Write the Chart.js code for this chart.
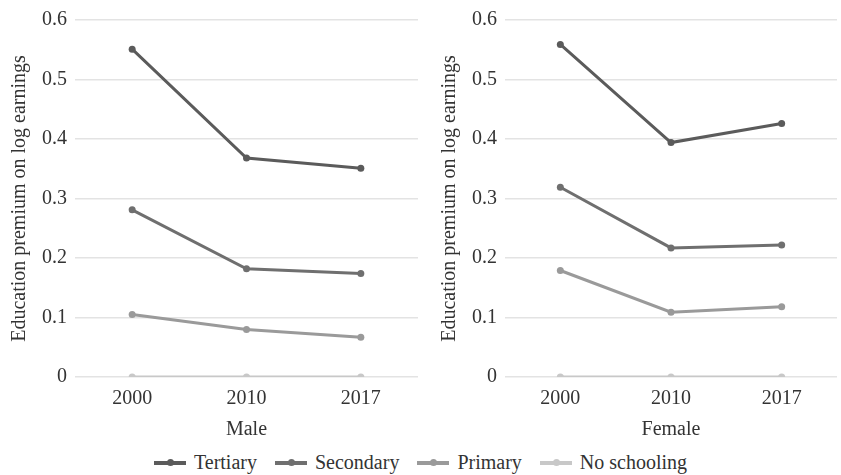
<!DOCTYPE html>
<html>
<head>
<meta charset="utf-8">
<script src="https://cdn.jsdelivr.net/npm/chart.js@4"></script>
<style>
  body { margin: 0; background: #fff; font-family: "Liberation Serif", "Times New Roman", "DejaVu Serif", serif; }
  #wrap { position: relative; width: 841px; height: 475px; }
  #leftBox { position: absolute; left: 0; top: 0; width: 422px; height: 446px; }
  #rightBox { position: absolute; left: 430px; top: 0; width: 411px; height: 446px; }
  #legend { position: absolute; left: 0; top: 451px; width: 841px; display: flex; justify-content: center; gap: 18px; font-size: 20px; color: #333; }
  .item { display: flex; align-items: center; gap: 8px; }
  .mark { position: relative; width: 32px; height: 4px; }
  .mark span { position: absolute; left: 13px; top: -2px; width: 7px; height: 7px; border-radius: 50%; }
</style>
</head>
<body>
<div id="wrap">
  <div id="leftBox"><canvas id="maleChart"></canvas></div>
  <div id="rightBox"><canvas id="femaleChart"></canvas></div>
  <div id="legend"></div>
</div>
<script>
const years = ["2000", "2010", "2017"];
const seriesNames = ["Tertiary", "Secondary", "Primary", "No schooling"];
const seriesColors = ["#5b5b5b", "#6f6f6f", "#9a9a9a", "#c8c8c8"];

// Male
const maleTertiary = [0.551, 0.368, 0.351];
const maleSecondary = [0.281, 0.182, 0.174];
const malePrimary = [0.105, 0.080, 0.067];
const maleNone = [0, 0, 0];

// Female
const femaleTertiary = [0.559, 0.394, 0.426];
const femaleSecondary = [0.319, 0.217, 0.222];
const femalePrimary = [0.179, 0.109, 0.118];
const femaleNone = [0, 0, 0];

const fontFamily = "'Liberation Serif', 'Times New Roman', 'DejaVu Serif', serif";

function makeChart(id, title, seriesData) {
    const ctx = document.getElementById(id).getContext("2d");
    return new Chart(ctx, {
        type: "line",
        data: {
            labels: years,
            datasets: seriesData.map((d, i) => ({
                label: seriesNames[i],
                data: d,
                borderColor: seriesColors[i],
                backgroundColor: seriesColors[i],
                borderWidth: 3,
                pointRadius: 3.5,
                pointBorderWidth: 0,
                tension: 0
            })).reverse()
        },
        options: {
            responsive: true,
            maintainAspectRatio: false,
            animation: false,
            layout: { padding: { top: 8, right: 0, left: 4 } },
            plugins: { legend: { display: false }, tooltip: { enabled: false } },
            scales: {
                x: {
                    offset: true,
                    grid: { display: false },
                    border: { display: false },
                    ticks: { color: "#333", font: { family: fontFamily, size: 20 }, padding: 2 },
                    title: { display: true, text: title, color: "#333", font: { family: fontFamily, size: 20 }, padding: { top: 5 } }
                },
                y: {
                    min: 0,
                    max: 0.6,
                    grid: { color: "#e3e3e3", lineWidth: 1.5, drawTicks: false },
                    border: { display: false },
                    ticks: { stepSize: 0.1, color: "#333", font: { family: fontFamily, size: 20 }, padding: 8 },
                    title: { display: true, text: "Education premium on log earnings", color: "#333", font: { family: fontFamily, size: 20 }, padding: { bottom: 2 } }
                }
            }
        }
    });
}

makeChart("maleChart", "Male", [maleTertiary, maleSecondary, malePrimary, maleNone]);
makeChart("femaleChart", "Female", [femaleTertiary, femaleSecondary, femalePrimary, femaleNone]);

// Legend
const legend = document.getElementById("legend");
seriesNames.forEach((name, i) => {
    const item = document.createElement("div");
    item.className = "item";
    item.innerHTML = `<div class="mark" style="background:${seriesColors[i]}"><span style="background:${seriesColors[i]}"></span></div><div>${name}</div>`;
    legend.appendChild(item);
});
</script>
</body>
</html>
